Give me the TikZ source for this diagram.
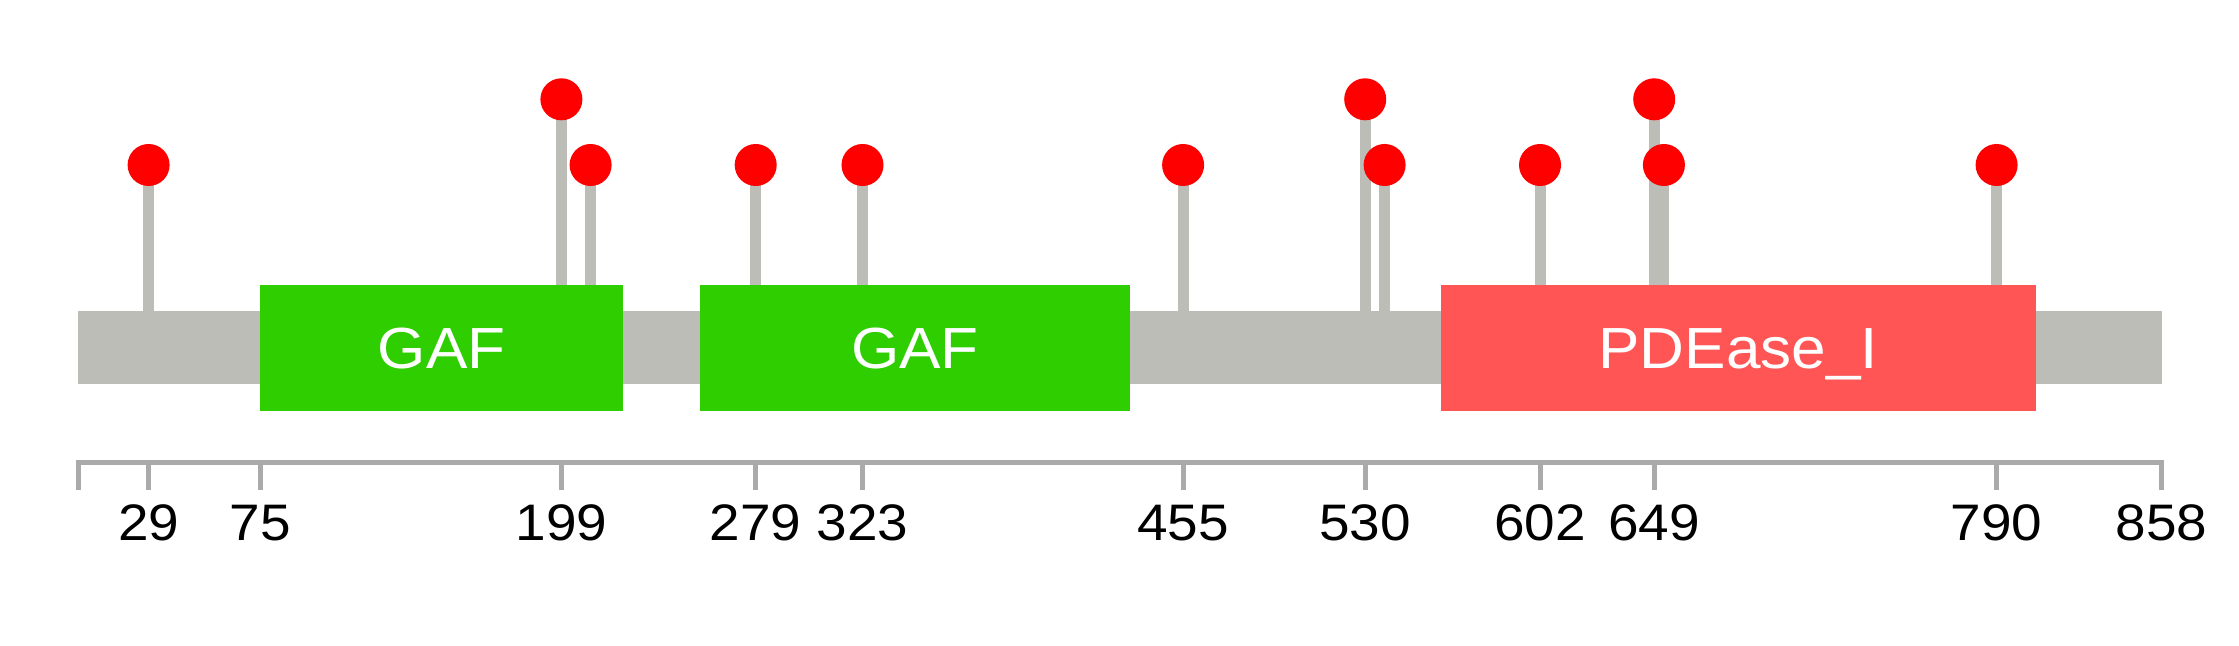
\documentclass[tikz,border=0pt]{standalone}
\usepackage{fontspec}
\setmainfont{Liberation Sans}[FakeStretch=1.07]
\usetikzlibrary{backgrounds}
\definecolor{grau}{HTML}{BBBDB6}
\definecolor{achsgrau}{HTML}{AAAAAA}
\definecolor{gafgruen}{HTML}{2ECE00}
\definecolor{pderot}{HTML}{FF5555}
\definecolor{kopfrot}{HTML}{FF0000}
\begin{document}
\begin{tikzpicture}[x=0.01cm, y=0.01cm,
		stiel/.style={draw=grau, line width=0.11cm},
		kopf/.style={circle, fill=kopfrot, inner sep=0pt, minimum size=0.42cm},
		achse/.style={draw=achsgrau, line width=0.05cm},
		zahl/.style={anchor=base, inner sep=0pt, font=\fontsize{14.6}{16}\selectfont},
		domtext/.style={text=white, inner sep=0pt, text height=11.8pt, text depth=0pt, font=\fontsize{16.5}{18}\selectfont}]
		\useasboundingbox (0,0) rectangle (2239,645);
		% Rueckgrat
		\fill[grau] (78.2,260.7) rectangle (2161.7,334.3);
		\coordinate (ruecken) at (0,334.3);
		% Domaenen
		\begin{scope}
			\fill[gafgruen] (260.3,234.3) rectangle (622.8,360) node [midway, domtext] (gaf1) {GAF};
			\fill[gafgruen] (700.1,234.3) rectangle (1129.8,360) node [midway, domtext] (gaf2) {GAF};
			\fill[pderot] (1440.6,234.3) rectangle (2036,360) node [midway, domtext] (pde) {PDEase\_I};
		\end{scope}
		% Mutationen
		\begin{scope}
			\node[kopf] (m29) at (148.6, 480) {};
			\node[kopf] (m199) at (561.4, 545.7) {};
			\node[kopf] (m211) at (590.6, 480) {};
			\node[kopf] (m279) at (755.7, 480) {};
			\node[kopf] (m323) at (862.5, 480) {};
			\node[kopf] (m455) at (1183.1, 480) {};
			\node[kopf] (m530) at (1365.2, 545.7) {};
			\node[kopf] (m538) at (1384.6, 480) {};
			\node[kopf] (m602) at (1540.0, 480) {};
			\node[kopf] (m649) at (1654.2, 545.7) {};
			\node[kopf] (m653) at (1663.9, 480) {};
			\node[kopf] (m790) at (1996.6, 480) {};
		\end{scope}
		% Stiele
		\begin{pgfonlayer}{background}
			\draw[stiel] (m29.center) -- (m29 |- ruecken);
			\draw[stiel] (m199.center) -- (m199 |- ruecken);
			\draw[stiel] (m211.center) -- (m211 |- ruecken);
			\draw[stiel] (m279.center) -- (m279 |- ruecken);
			\draw[stiel] (m323.center) -- (m323 |- ruecken);
			\draw[stiel] (m455.center) -- (m455 |- ruecken);
			\draw[stiel] (m530.center) -- (m530 |- ruecken);
			\draw[stiel] (m538.center) -- (m538 |- ruecken);
			\draw[stiel] (m602.center) -- (m602 |- ruecken);
			\draw[stiel] (m649.center) -- (m649 |- ruecken);
			\draw[stiel] (m653.center) -- (m653 |- ruecken);
			\draw[stiel] (m790.center) -- (m790 |- ruecken);
		\end{pgfonlayer}
		% Achse
		\draw[achse] (78.2, 155) -- (78.2, 182.3) -- (2161.7, 182.3) -- (2161.7, 155);
		\draw[achse] (148.6, 182.3) --++ (0, -27.3);
		\draw[achse] (260.3, 182.3) --++ (0, -27.3);
		\draw[achse] (561.4, 182.3) --++ (0, -27.3);
		\draw[achse] (755.7, 182.3) --++ (0, -27.3);
		\draw[achse] (862.5, 182.3) --++ (0, -27.3);
		\draw[achse] (1183.1, 182.3) --++ (0, -27.3);
		\draw[achse] (1365.2, 182.3) --++ (0, -27.3);
		\draw[achse] (1540.0, 182.3) --++ (0, -27.3);
		\draw[achse] (1654.2, 182.3) --++ (0, -27.3);
		\draw[achse] (1996.6, 182.3) --++ (0, -27.3);
		% Beschriftung
		\node[zahl] (l29) at (148.6, 104.3) {29};
		\node[zahl] (l75) at (260.3, 104.3) {75};
		\node[zahl] (l199) at (561.4, 104.3) {199};
		\node[zahl] (l279) at (755.7, 104.3) {279};
		\node[zahl] (l323) at (862.5, 104.3) {323};
		\node[zahl] (l455) at (1183.1, 104.3) {455};
		\node[zahl] (l530) at (1365.2, 104.3) {530};
		\node[zahl] (l602) at (1540.0, 104.3) {602};
		\node[zahl] (l649) at (1654.2, 104.3) {649};
		\node[zahl] (l790) at (1996.6, 104.3) {790};
		\node[zahl] (l858) at (2161.7, 104.3) {858};
	\end{tikzpicture}
\end{document}
